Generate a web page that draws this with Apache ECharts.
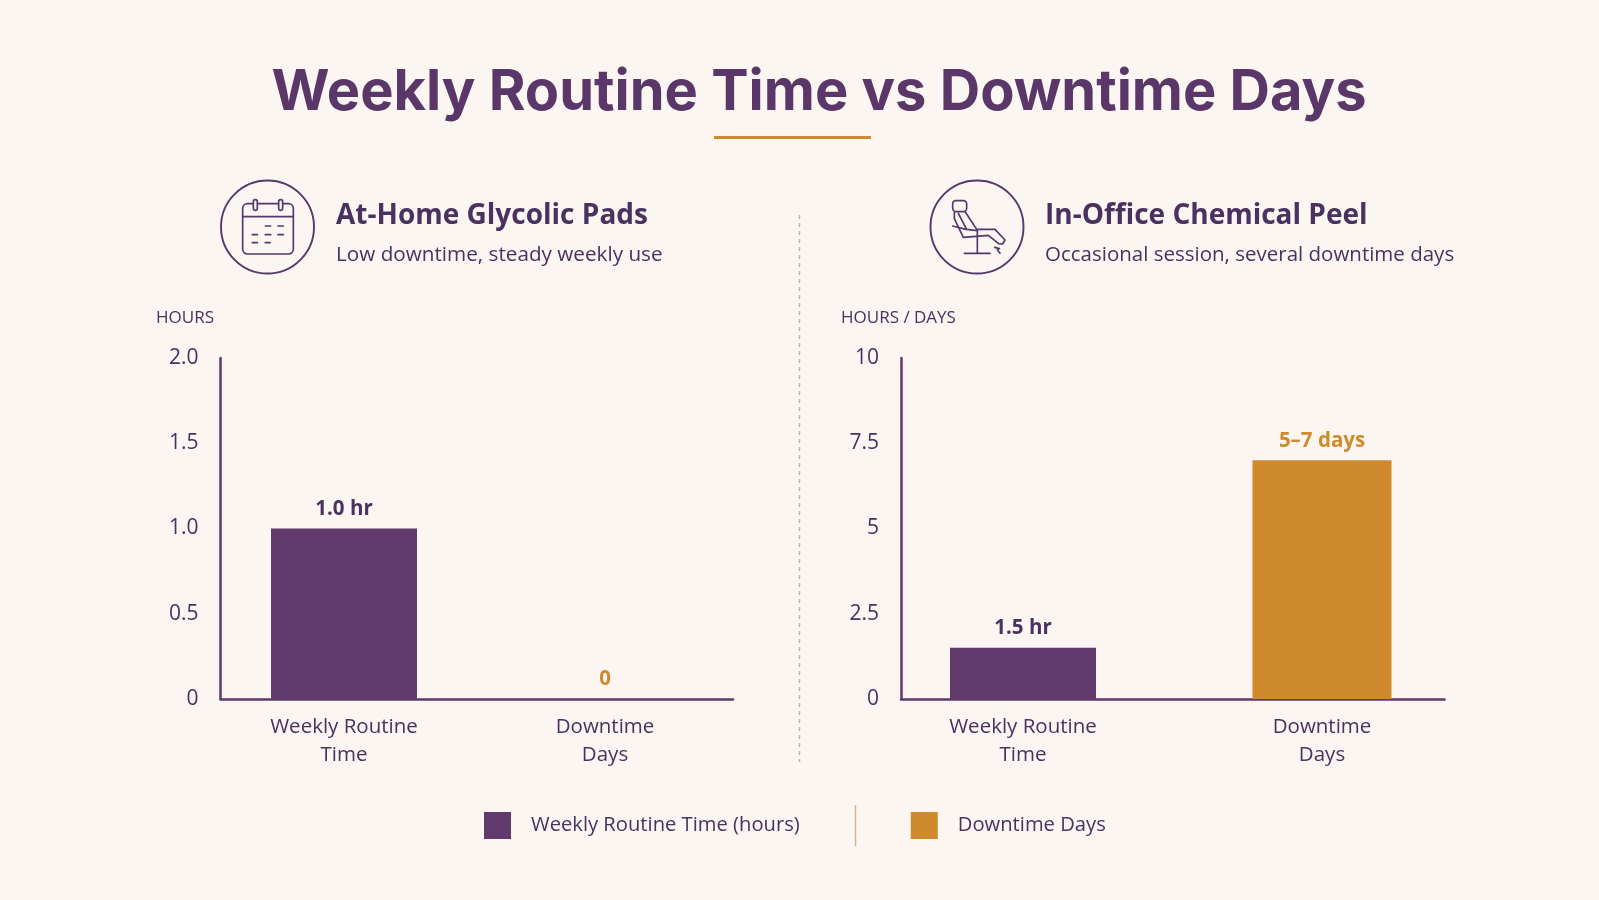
<!DOCTYPE html>
<html>
<head>
<meta charset="utf-8">
<title>Weekly Routine Time vs Downtime Days</title>
<style>
  html, body { margin: 0; padding: 0; background: #FBF6F1; }
  #chart { width: 1599px; height: 900px; }
</style>
<script src="https://cdn.jsdelivr.net/npm/echarts@6/dist/echarts.min.js"></script>
</head>
<body>
<div id="chart"></div>
<script>
// Chart values
const categories = ['Weekly Routine\nTime', 'Downtime\nDays'];
const seriesNames = ['Weekly Routine Time (hours)', 'Downtime Days'];
const homeWeekly = [1.0, null];
const homeDowntime = [null, 0];
const officeWeekly = [1.5, null];
const officeDowntime = [null, 7];
const homeValueLabels = ['1.0 hr', '0'];
const officeValueLabels = ['1.5 hr', '5–7 days'];
const homeTicks = ['0', '0.5', '1.0', '1.5', '2.0'];
const officeTicks = ['0', '2.5', '5', '7.5', '10'];

const PURPLE = '#5F3A6B';
const INK = '#4A3160';
const LINE = '#55386C';
const ORANGE = '#D08A2E';
const FONT = '"Open Sans", "Noto Sans", sans-serif';

const chart = echarts.init(document.getElementById('chart'));

function heading(text, left, top, size, weight, color, family) {
  return { text, left, top, textStyle: { fontSize: size, fontWeight: weight, color, fontFamily: family || FONT } };
}

// Axis frame of a panel: the visible spine, baseline and value ticks
function frameY(gridIndex, max, interval, ticks) {
  return {
    gridIndex, type: 'value', min: 0, max, interval,
    axisLine: { show: true, lineStyle: { color: PURPLE, width: 2.5 } },
    axisTick: { show: false }, splitLine: { show: false },
    axisLabel: {
      color: INK, fontSize: 21, fontFamily: FONT, margin: 22,
      formatter: (v) => ticks[Math.round(v / interval)]
    }
  };
}
function frameX(gridIndex) {
  return {
    gridIndex, type: 'value', min: 0, max: 1,
    axisLine: { show: true, onZero: false, lineStyle: { color: PURPLE, width: 2.5 } },
    axisTick: { show: false }, axisLabel: { show: false }, splitLine: { show: false }
  };
}
// Plot layer of a panel: carries the bars and the category labels
function plotX(gridIndex, showLabels) {
  return {
    gridIndex, type: 'category', data: categories,
    axisLine: { show: false }, axisTick: { show: false },
    axisLabel: { show: showLabels, color: INK, fontSize: 20.5, fontFamily: FONT, lineHeight: 28, margin: 14, interval: 0 }
  };
}
function plotY(gridIndex, max) {
  return { gridIndex, type: 'value', min: 0, max, show: false };
}
function bars(name, data, color, index, width, labels) {
  return {
    name, type: 'bar', data, xAxisIndex: index, yAxisIndex: index,
    barWidth: width, barGap: '-100%',
    itemStyle: { color },
    label: {
      show: true, position: 'top', distance: 9, color: name === seriesNames[0] ? INK : ORANGE,
      fontSize: 20.5, fontWeight: 700, fontFamily: FONT,
      formatter: (p) => labels[p.dataIndex]
    }
  };
}

// Line icons drawn in a 3x coordinate space, scaled down into the header
const stroke = { stroke: LINE, lineWidth: 1.9, fill: 'none' };
const iconStroke = { stroke: LINE, lineWidth: 5, fill: 'none', lineCap: 'round', lineJoin: 'round' };
function dash(x1, x2, y) {
  return { type: 'line', shape: { x1, y1: y, x2, y2: y }, style: { stroke: LINE, lineWidth: 5, lineCap: 'round' } };
}
function stroked(points) {
  return { type: 'polyline', shape: { points }, style: iconStroke };
}
const calendarIcon = {
  type: 'group', x: 200, y: 160, scaleX: 1 / 3, scaleY: 1 / 3,
  children: [
    { type: 'rect', shape: { x: 128, y: 131, width: 152, height: 151, r: 14 }, style: iconStroke },
    { type: 'line', shape: { x1: 128, y1: 170, x2: 280, y2: 170 }, style: iconStroke },
    { type: 'rect', shape: { x: 160, y: 119, width: 12, height: 32, r: 6 }, style: { ...iconStroke, fill: '#FBF6F1' } },
    { type: 'rect', shape: { x: 236, y: 119, width: 12, height: 32, r: 6 }, style: { ...iconStroke, fill: '#FBF6F1' } },
    dash(196, 212, 198), dash(234, 250, 198),
    dash(157, 172, 224), dash(196, 212, 224), dash(234, 250, 224),
    dash(157, 172, 248), dash(196, 210, 248)
  ]
};
const chairIcon = {
  type: 'group', x: 900, y: 160, scaleX: 1 / 3, scaleY: 1 / 3,
  children: [
    { type: 'rect', shape: { x: 158, y: 122, width: 42, height: 33, r: 10 }, style: iconStroke },
    stroked([[163, 157], [163, 176], [190, 232], [265, 226], [296, 251], [308, 252], [315, 240], [285, 208], [230, 208], [196, 156]]),
    stroked([[175, 160], [200, 208], [232, 212]]),
    stroked([[158, 198], [198, 208]]),
    stroked([[232, 212], [232, 280]]),
    stroked([[193, 280], [270, 280]]),
    stroked([[284, 262], [298, 266], [292, 270], [300, 280]])
  ]
};

chart.setOption({
  backgroundColor: '#FBF6F1',
  animation: false,
  title: [
    heading('Weekly Routine Time vs Downtime Days', 266.5, 60, 56, 700, '#5A3768', 'Inter, "Open Sans", sans-serif'),
    heading('At-Home Glycolic Pads', 331, 197, 28, 700, INK),
    heading('Low downtime, steady weekly use', 331, 240, 20.7, 400, INK),
    heading('In-Office Chemical Peel', 1040, 197, 28, 700, INK),
    heading('Occasional session, several downtime days', 1040, 240, 20.5, 400, INK),
    heading('HOURS', 151, 305, 17, 400, INK),
    heading('HOURS / DAYS', 836, 305, 17, 400, INK)
  ],
  grid: [
    { left: 220.5, top: 358, width: 512.5, height: 341 },
    { left: 213.5, top: 358, width: 522, height: 341 },
    { left: 901, top: 358, width: 543.5, height: 341 },
    { left: 873.5, top: 358, width: 598, height: 341 },
    { left: 873.5, top: 358, width: 598, height: 341 }
  ],
  xAxis: [frameX(0), plotX(1, true), frameX(2), plotX(3, true), plotX(4, false)],
  yAxis: [
    frameY(0, 2, 0.5, homeTicks), plotY(1, 2),
    frameY(2, 10, 2.5, officeTicks), plotY(3, 10), plotY(4, 10)
  ],
  legend: {
    left: 479, top: 807, itemWidth: 27, itemHeight: 27, itemGap: 111, icon: 'rect',
    selectedMode: false, data: seriesNames,
    textStyle: { color: INK, fontSize: 20.2, fontFamily: FONT, padding: [0, 0, 0, 15] }
  },
  series: [
    bars(seriesNames[0], homeWeekly, PURPLE, 1, 146, homeValueLabels),
    bars(seriesNames[1], homeDowntime, ORANGE, 1, 146, homeValueLabels),
    bars(seriesNames[0], officeWeekly, PURPLE, 3, 146, officeValueLabels),
    bars(seriesNames[1], officeDowntime, ORANGE, 4, 139, officeValueLabels)
  ],
  graphic: [
    // Orange rule under the title
    { type: 'line', shape: { x1: 714, y1: 137.5, x2: 871, y2: 137.5 }, style: { stroke: ORANGE, lineWidth: 3 } },
    // Dashed divider between the panels
    { type: 'line', shape: { x1: 799.5, y1: 215, x2: 799.5, y2: 762 }, style: { stroke: '#B9B4AF', lineWidth: 1.5, lineDash: [4, 4] } },
    // Separator between the legend entries
    { type: 'line', shape: { x1: 855.5, y1: 805, x2: 855.5, y2: 846 }, style: { stroke: '#CDB98F', lineWidth: 1.5 } },
    // Header icons
    { type: 'circle', shape: { cx: 267.5, cy: 227, r: 46.5 }, style: stroke },
    { type: 'circle', shape: { cx: 977, cy: 227, r: 46.5 }, style: stroke },
    calendarIcon,
    chairIcon
  ]
});
</script>
</body>
</html>
